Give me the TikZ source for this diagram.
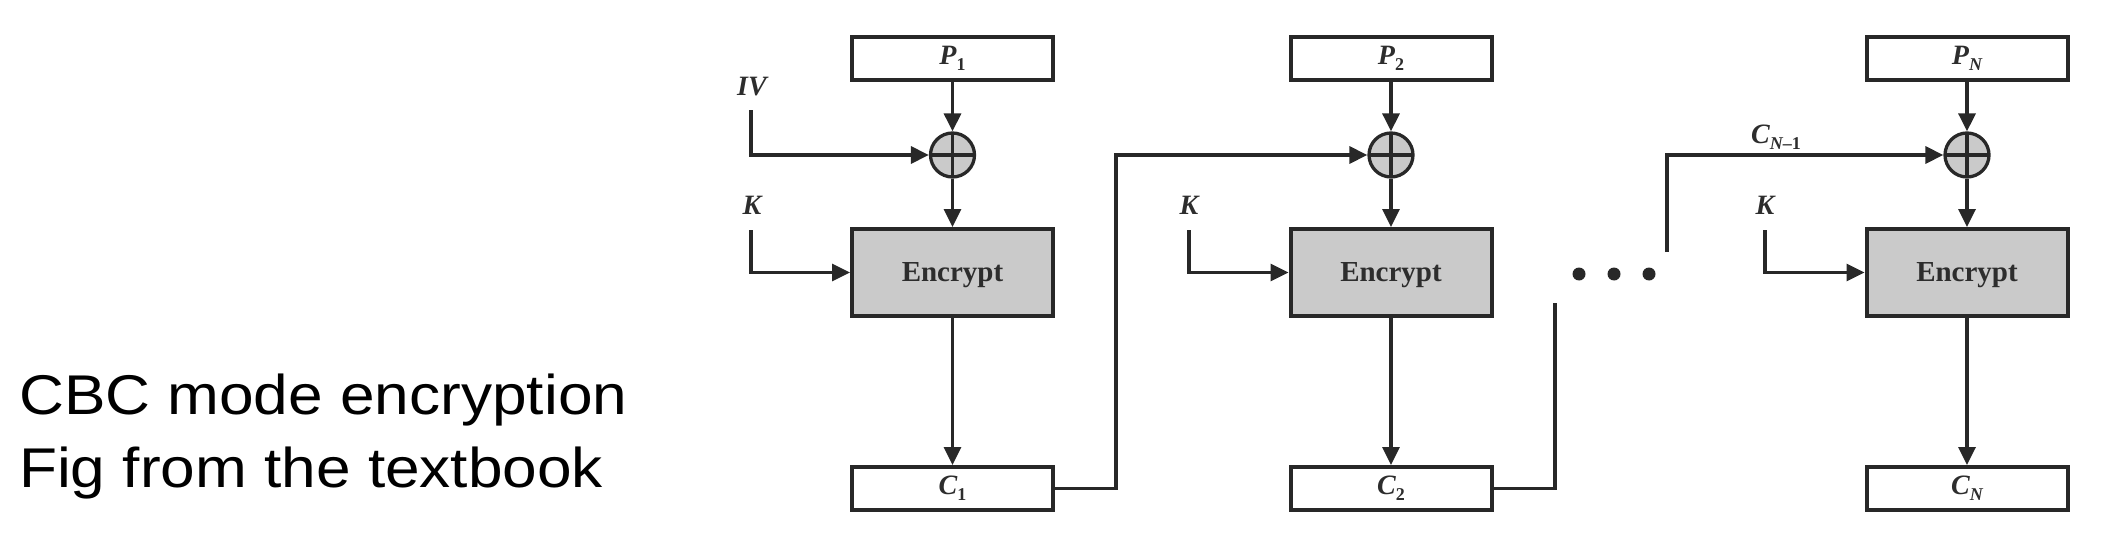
\documentclass[tikz,border=0pt]{standalone}
\usepackage{fontspec}
\setmainfont{Liberation Serif}
\newfontfamily\capfont[FakeStretch=1.11]{Liberation Sans}
\usetikzlibrary{arrows.meta}
\definecolor{lc}{RGB}{40,40,40}
\definecolor{gfill}{RGB}{202,202,202}
\definecolor{tc}{RGB}{45,45,45}
\newcommand\lsub[1]{\raisebox{-0.45ex}{\fontsize{18}{18}\selectfont #1}}
\tikzset{
  line/.style={draw=lc, line width=3.3pt},
  arr/.style={line, -{Triangle[length=18pt,width=17pt]}},
  pbox/.style={draw=lc, line width=4pt, minimum width=201pt, minimum height=43pt,
    inner sep=0pt, text=tc, font=\fontsize{28}{28}\selectfont\bfseries\itshape},
  encbox/.style={pbox, fill=gfill, minimum height=87pt, text depth=0pt,
    font=\fontsize{29}{29}\selectfont\bfseries},
  xorc/.style={circle, draw=lc, line width=3.3pt, fill=gfill, minimum size=44pt, inner sep=0pt,
    path picture={\draw[lc, line width=3.3pt]
      (path picture bounding box.north) -- (path picture bounding box.south)
      (path picture bounding box.west) -- (path picture bounding box.east);}},
  lbl/.style={inner sep=0pt, text=tc, font=\fontsize{28}{28}\selectfont\bfseries\itshape},
  dotn/.style={circle, fill=lc, minimum size=13pt, inner sep=0pt},
  captxt/.style={inner sep=0pt, anchor=base west, font=\capfont\fontsize{56}{56}\selectfont}
}
\begin{document}
\begin{tikzpicture}[x=1pt, y=-1pt]
\useasboundingbox (0,0) rectangle (2110,535);
% caption
\node[captxt] (cap1) at (19,414) {CBC mode encryption};
\node[captxt] (cap2) at (19,487) {Fig from the textbook};
% column 1
\node[pbox] (P1) at (952.5,58.5) {P\lsub{\upshape 1}};
\node[xorc] (X1) at (952.5,155) {};
\node[encbox] (E1) at (952.5,272.5) {Encrypt};
\node[pbox] (C1) at (952.5,488.5) {C\lsub{\upshape 1}};
% column 2
\node[pbox] (P2) at (1391,58.5) {P\lsub{\upshape 2}};
\node[xorc] (X2) at (1391,155) {};
\node[encbox] (E2) at (1391,272.5) {Encrypt};
\node[pbox] (C2) at (1391,488.5) {C\lsub{\upshape 2}};
% column N
\node[pbox] (PN) at (1967,58.5) {P\lsub{N}};
\node[xorc] (XN) at (1967,155) {};
\node[encbox] (EN) at (1967,272.5) {Encrypt};
\node[pbox] (CN) at (1967,488.5) {C\lsub{N}};
% labels
\node[lbl] (IV) at (752,87) {IV};
\node[lbl] (K1) at (752,205) {K};
\node[lbl] (K2) at (1189,205) {K};
\node[lbl] (KN) at (1765,205) {K};
\node[lbl] (CNm) at (1776,137) {C\lsub{N\upshape--1}};
% dots
\node[dotn] (d1) at (1579,274) {};
\node[dotn] (d2) at (1614,274) {};
\node[dotn] (d3) at (1649,274) {};
% coordinates
\coordinate (iv) at (751,110);
\coordinate (k1) at (751,230);
\coordinate (k2) at (1189,230);
\coordinate (kn) at (1765,230);
\coordinate (j1) at (1116,155);
\coordinate (j2) at (1555,303);
\coordinate (jn) at (1667,252);
% vertical flows
\foreach \c in {1,2,N}{
  \draw[arr] (P\c.south) -- (X\c.north);
  \draw[arr] (X\c.south) -- (E\c.north);
  \draw[arr] (E\c.south) -- (C\c.north);
}
% side inputs
\draw[arr] (iv) |- (X1.west);
\draw[arr] (k1) |- (E1.west);
\draw[arr] (k2) |- (E2.west);
\draw[arr] (kn) |- (EN.west);
% chaining
\draw[arr] (C1.east) -| (j1) -- (X2.west);
\draw[line] (C2.east) -| (j2);
\draw[arr] (jn) |- (XN.west);
\end{tikzpicture}
\end{document}
